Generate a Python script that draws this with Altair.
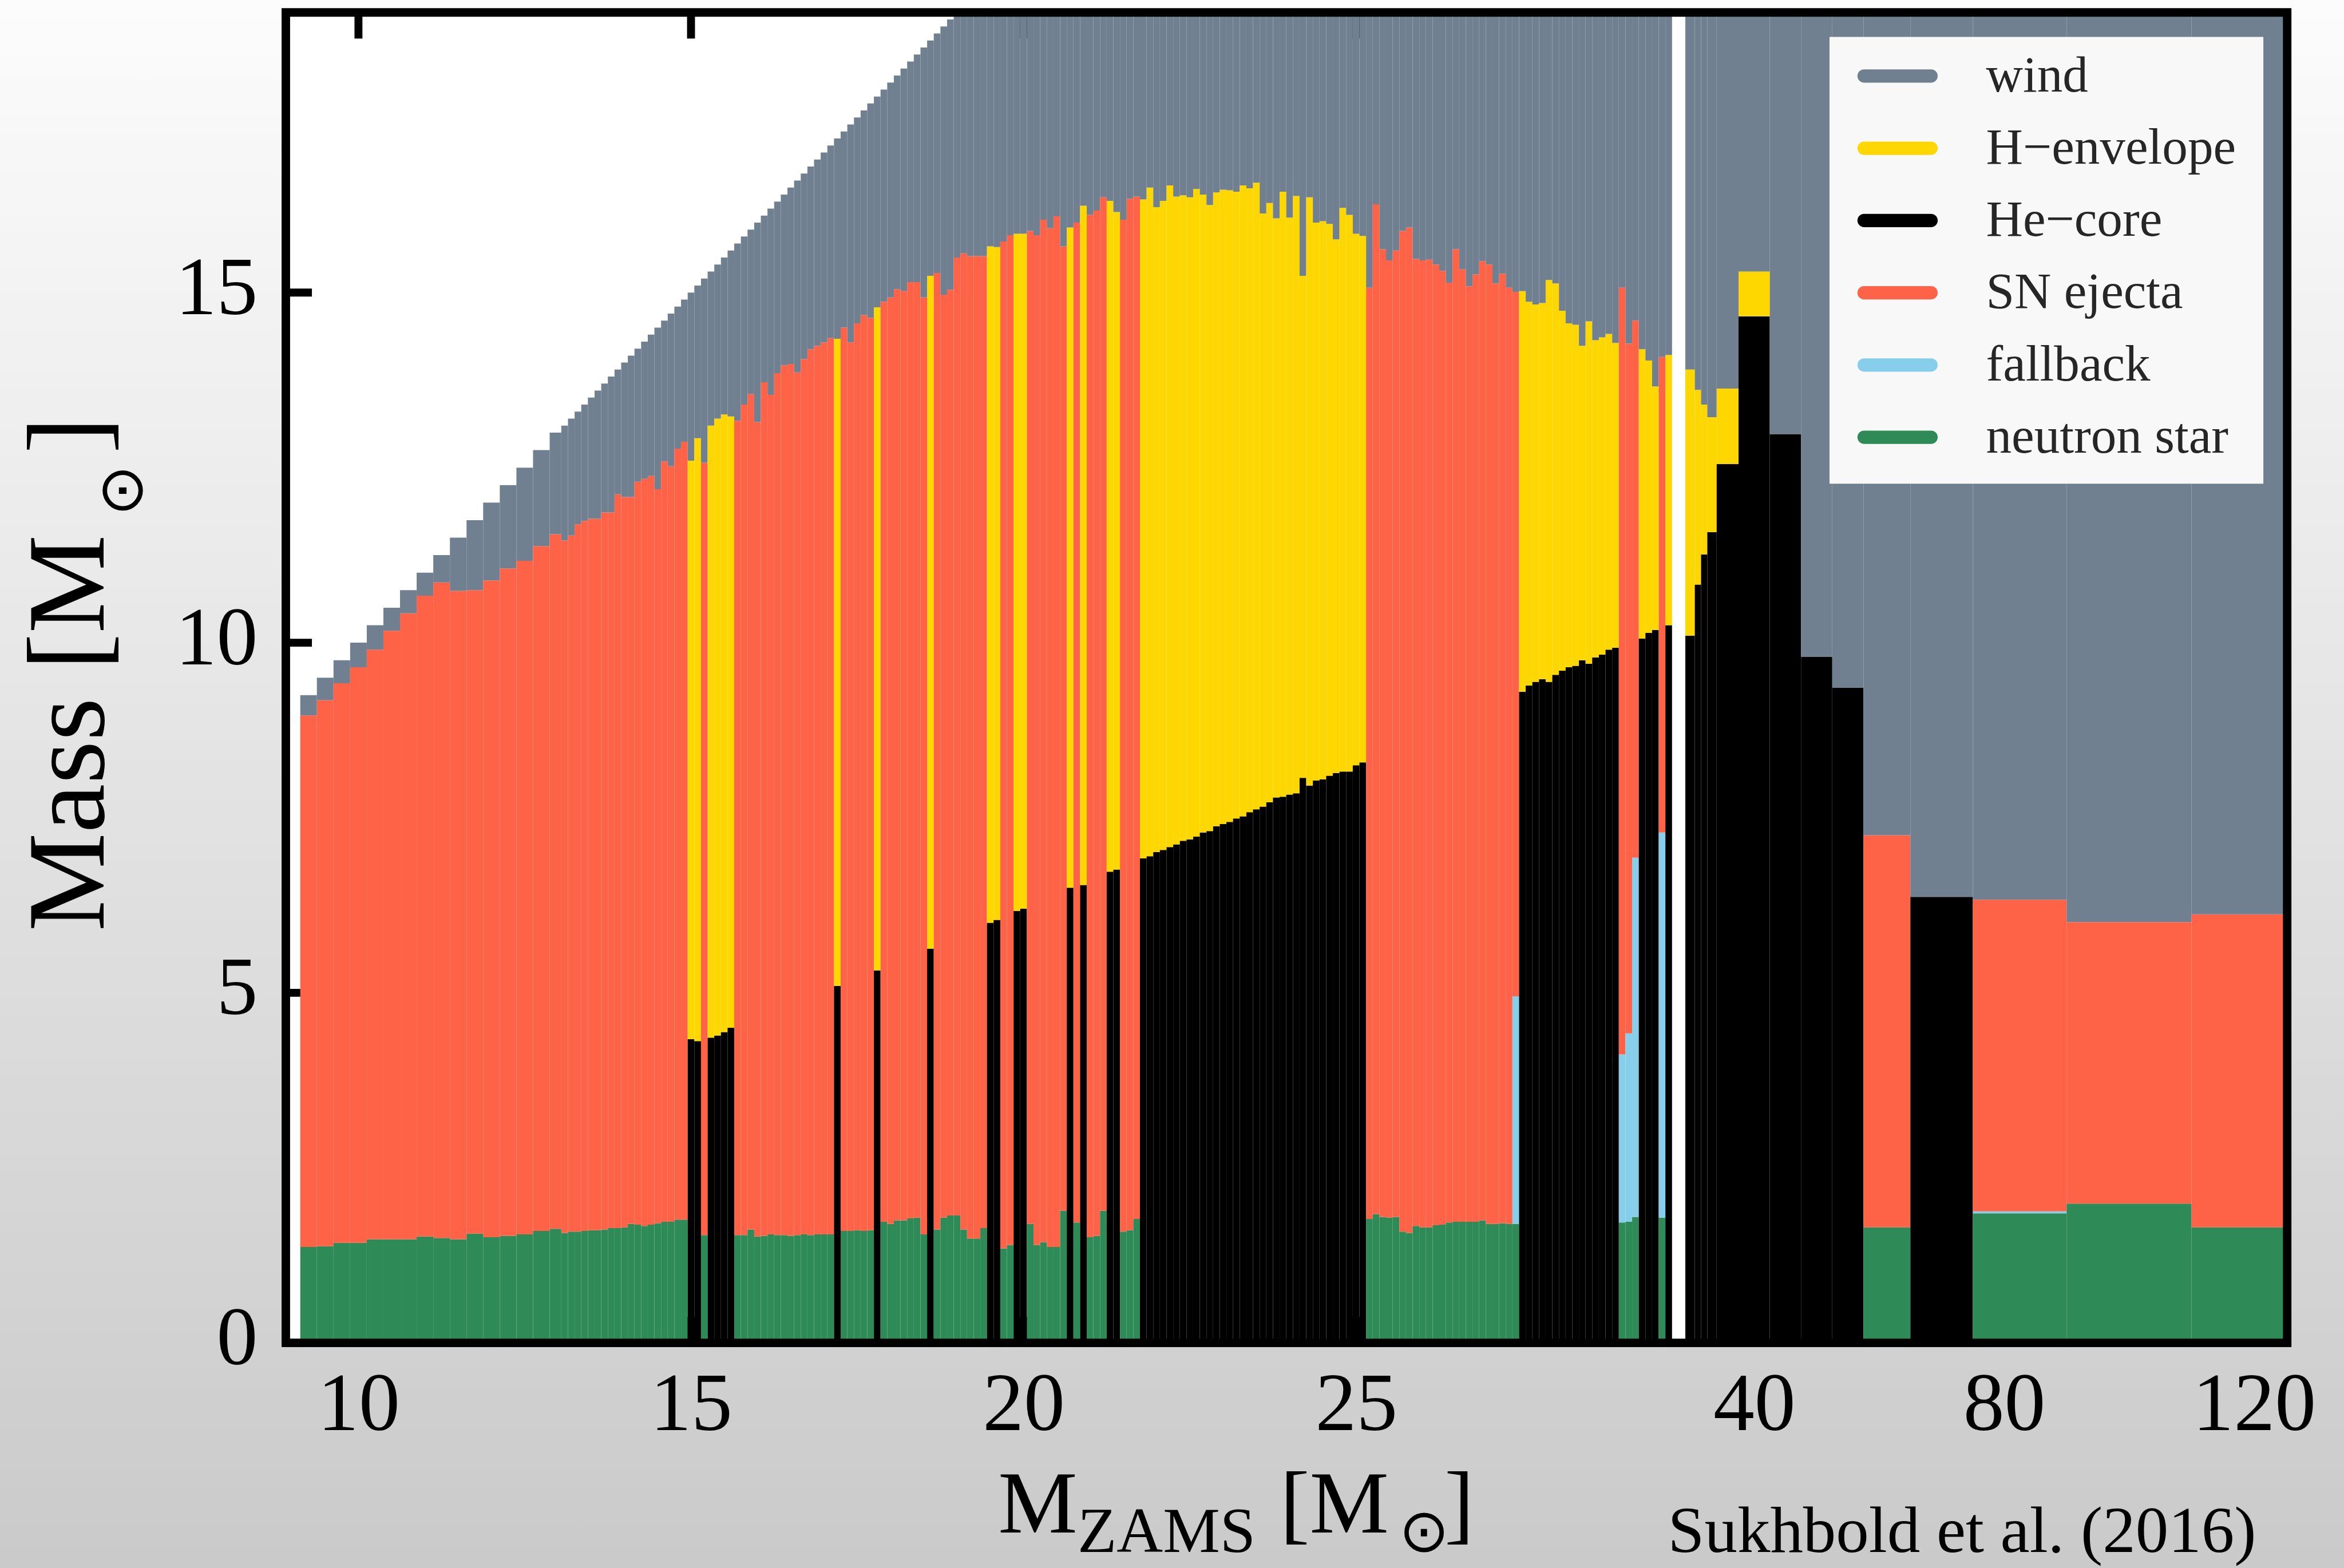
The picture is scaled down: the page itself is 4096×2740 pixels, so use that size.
import altair as alt
import pandas as pd

S = 0.991                      # global drawing scale
FONT = "Liberation Serif"
SYM_FONT = "DejaVu Sans"

# ---------------------------------------------------------------- data
# zero-age main-sequence masses of the models [Msun]
m_zams = [
    9.25, 9.5, 9.75, 10.0, 10.25, 10.5, 10.75, 11.0, 11.25, 11.5, 11.75, 12.0, 12.25, 12.5, 12.75,
    13.0, 13.1, 13.2, 13.3, 13.4, 13.5, 13.6, 13.7, 13.8, 13.9,
    14.0, 14.1, 14.2, 14.3, 14.4, 14.5, 14.6, 14.7, 14.8, 14.9,
    15.0, 15.1, 15.2, 15.3, 15.4, 15.5, 15.6, 15.7, 15.8, 15.9,
    16.0, 16.1, 16.2, 16.3, 16.4, 16.5, 16.6, 16.7, 16.8, 16.9,
    17.0, 17.1, 17.2, 17.3, 17.4, 17.5, 17.6, 17.7, 17.8, 17.9,
    18.0, 18.1, 18.2, 18.3, 18.4, 18.5, 18.6, 18.7, 18.8, 18.9,
    19.0, 19.1, 19.2, 19.3, 19.4, 19.5, 19.6, 19.7, 19.8, 19.9,
    20.0, 20.1, 20.2, 20.3, 20.4, 20.5, 20.6, 20.7, 20.8, 20.9,
    21.0, 21.1, 21.2, 21.3, 21.4, 21.5, 21.6, 21.7, 21.8, 21.9,
    22.0, 22.1, 22.2, 22.3, 22.4, 22.5, 22.6, 22.7, 22.8, 22.9,
    23.0, 23.1, 23.2, 23.3, 23.4, 23.5, 23.6, 23.7, 23.8, 23.9,
    24.0, 24.1, 24.2, 24.3, 24.4, 24.5, 24.6, 24.7, 24.8, 24.9,
    25.0, 25.1, 25.2, 25.3, 25.4, 25.5, 25.6, 25.7, 25.8, 25.9,
    26.0, 26.1, 26.2, 26.3, 26.4, 26.5, 26.6, 26.7, 26.8, 26.9,
    27.0, 27.1, 27.2, 27.3, 27.4, 27.5, 27.6, 27.7, 27.8, 27.9,
    28.0, 28.1, 28.2, 28.3, 28.4, 28.5, 28.6, 28.7, 28.8, 28.9,
    29.0, 29.1, 29.2, 29.3, 29.4, 29.5, 29.6, 29.7, 29.8, 29.9,
    30.0,
    31.0, 32.0, 33.0, 35.0, 40.0, 45.0, 50.0, 55.0, 60.0, 70.0, 80.0, 100.0, 120.0,
]

# E = explosion (neutron star), B = black hole, - = no model
fate = (
    "EEEEEEEEEEEEEEE"   # 9.25 - 12.75
    "EEEEEEEEEE"        # 13.x
    "EEEEEEEEEE"        # 14.x
    "BBEBBBBEEE"        # 15.x
    "EEEEEEEEEE"        # 16.x
    "EEBEEEEEBE"        # 17.x
    "EEEEEEBEEE"        # 18.x
    "EEEEEBBEEB"        # 19.x
    "BEEEEEEBEB"        # 20.x
    "EEEBBEEEBB"        # 21.x
    "BBBBBBBBBB"        # 22.x
    "BBBBBBBBBB"        # 23.x
    "BBBBBBBBBB"        # 24.x
    "BBEEEEEEEE"        # 25.x
    "EEEEEEEEEE"        # 26.x
    "EEEEEBBBBB"        # 27.x
    "BBBBBBBBBB"        # 28.x
    "EEEBBBEB--"        # 29.x
    "B"                 # 30
    "BBBBBBBBEBEEE"     # 31 ... 120
)

# pre-supernova mass (top of ejecta / envelope) [Msun]
final_mass = [
    8.96, 9.18, 9.42, 9.65, 9.90, 10.17, 10.42, 10.67, 10.86, 10.74, 10.75, 10.89, 11.06, 11.17, 11.38,
    11.55, 11.46, 11.53, 11.69, 11.74, 11.77, 11.77, 11.86, 11.86, 12.12,
    12.08, 12.08, 12.30, 12.34, 12.38, 12.19, 12.59, 12.52, 12.77, 12.87,
    12.60, 12.92, 12.57, 13.10, 13.20, 13.26, 13.23, 13.17, 13.40, 13.55,
    13.15, 13.72, 13.54, 13.85, 13.96, 13.98, 13.86, 14.05, 14.19, 14.24,
    14.29, 14.35, 14.34, 14.50, 14.29, 14.56, 14.68, 14.64, 14.79, 14.87,
    14.93, 15.05, 15.02, 15.15, 15.15, 14.93, 15.24, 15.28, 14.97, 15.04,
    15.50, 15.56, 15.52, 15.52, 15.52, 15.66, 15.65, 15.73, 15.82, 15.84,
    15.84, 15.88, 15.82, 16.04, 15.92, 16.09, 15.66, 15.93, 16.00, 16.24,
    16.11, 16.17, 16.36, 16.31, 16.15, 16.04, 16.34, 16.37, 16.33, 16.50,
    16.22, 16.31, 16.53, 16.37, 16.39, 16.36, 16.48, 16.40, 16.25, 16.43,
    16.47, 16.46, 16.44, 16.53, 16.49, 16.57, 16.13, 16.28, 16.06, 16.44,
    16.07, 16.38, 15.24, 16.36, 16.00, 16.02, 15.98, 15.76, 16.21, 16.11,
    15.84, 15.81, 15.07, 16.26, 15.62, 15.46, 15.60, 15.88, 15.93, 15.48,
    15.46, 15.47, 15.40, 15.31, 15.14, 15.62, 15.33, 15.09, 15.26, 15.45,
    15.40, 15.13, 15.27, 15.07, 15.01, 15.02, 14.87, 14.83, 14.85, 15.18,
    15.13, 14.74, 14.56, 14.54, 14.24, 14.59, 14.32, 14.36, 14.41, 14.28,
    15.07, 14.27, 14.60, 14.19, 14.03, 13.66, 14.08, 14.11, None, None,
    13.90,
    13.61, 13.40, 13.22, 13.63, 15.30, 12.98, 9.80, 9.36, 7.25, 6.37, 6.33, 6.01, 6.12,
]

# neutron-star mass (exploding models) or He-core mass (black holes) [Msun]
core_mass = [
    1.37, 1.38, 1.43, 1.43, 1.48, 1.48, 1.48, 1.52, 1.50, 1.48, 1.56, 1.51, 1.53, 1.55, 1.60,
    1.63, 1.57, 1.59, 1.59, 1.60, 1.61, 1.61, 1.62, 1.64, 1.64,
    1.65, 1.70, 1.69, 1.67, 1.69, 1.71, 1.73, 1.73, 1.76, 1.76,
    4.34, 4.31, 1.54, 4.36, 4.39, 4.44, 4.50, 1.54, 1.54, 1.62,
    1.52, 1.53, 1.55, 1.54, 1.54, 1.53, 1.54, 1.55, 1.54, 1.55,
    1.55, 1.55, 5.10, 1.60, 1.60, 1.61, 1.60, 1.61, 5.32, 1.73,
    1.70, 1.75, 1.75, 1.78, 1.79, 1.55, 5.63, 1.62, 1.79, 1.82,
    1.82, 1.62, 1.49, 1.49, 1.64, 6.00, 6.04, 1.35, 1.40, 6.17,
    6.20, 1.70, 1.40, 1.44, 1.37, 1.37, 1.89, 6.50, 1.72, 6.54,
    1.51, 1.53, 1.89, 6.73, 6.76, 1.59, 1.61, 1.77, 6.92, 6.95,
    7.01, 7.04, 7.08, 7.12, 7.17, 7.19, 7.23, 7.29, 7.31, 7.38,
    7.41, 7.44, 7.49, 7.52, 7.58, 7.62, 7.66, 7.72, 7.79, 7.80,
    7.83, 7.85, 8.07, 7.96, 8.03, 8.05, 8.10, 8.14, 8.16, 8.16,
    8.25, 8.29, 1.77, 1.84, 1.80, 1.79, 1.80, 1.59, 1.57, 1.67,
    1.65, 1.65, 1.68, 1.69, 1.72, 1.73, 1.73, 1.73, 1.73, 1.75,
    1.70, 1.70, 1.71, 1.70, 1.70, 9.30, 9.39, 9.44, 9.48, 9.44,
    9.54, 9.60, 9.65, 9.67, 9.75, 9.70, 9.79, 9.83, 9.90, 9.93,
    1.72, 1.73, 1.80, 10.06, 10.14, 10.18, 1.79, 10.25, None, None,
    10.10,
    10.83, 11.26, 11.58, 12.55, 14.66, 12.98, 9.80, 9.36, 1.65, 6.37, 1.85, 1.99, 1.65,
]

# models with fallback onto the neutron star: top of the fallback layer [Msun]
fallback_models = [27.4, 29.0, 29.1, 29.2, 29.6, 80.0]
fallback_top = [4.95, 4.12, 4.42, 6.93, 7.29, 1.88]

parts = ["wind", "H\u2212envelope", "He\u2212core", "SN ejecta", "fallback", "neutron star"]
part_colors = ["#708090", "#FFD700", "#000000", "#FF6347", "#87CEEB", "#2E8B57"]

x_ticks = [10, 15, 20, 25, 40, 80, 120]
y_ticks = [0, 5, 10, 15]

# ---------------------------------------------------------------- segments
fb = {round(m, 2): t for m, t in zip(fallback_models, fallback_top)}
rows = []
n = len(m_zams)
for i, m in enumerate(m_zams):
    f = fate[i]
    if f == "-":
        continue
    lo = m - (m - m_zams[i - 1]) / 2 if i > 0 else m - (m_zams[1] - m) / 2
    hi = m + (m_zams[i + 1] - m) / 2 if i < n - 1 else m + (m - m_zams[i - 1]) / 2
    top, inner = final_mass[i], core_mass[i]
    segs = []
    if f == "E":
        segs.append(("neutron star", 0.0, inner))
        base = inner
        t = fb.get(round(m, 2))
        if t is not None:
            segs.append(("fallback", inner, t))
            base = t
        segs.append(("SN ejecta", base, top))
    else:
        segs.append(("He\u2212core", 0.0, inner))
        if top > inner:
            segs.append(("H\u2212envelope", inner, top))
    segs.append(("wind", top, m))
    for p, a, b in segs:
        rows.append({"m": m, "lo": lo, "hi": hi, "y0": a, "y1": b, "part": p})
bars_df = pd.DataFrame(rows)

# ---------------------------------------------------------------- layout
W = 3529 * S
H = 2346 * S
PL = 504 * S
PT = 22 * S
PR = 4096 - PL - W
PB = 2740 - PT - H

one = pd.DataFrame({"k": [0]})

x_scale = alt.Scale(domain=[8.908, 30.05, 125.3], range=[0, 2479.5 * S, W], nice=False, zero=False)
y_scale = alt.Scale(domain=[0, 19], nice=False, zero=False)

x_axis = alt.Axis(values=x_ticks, format="d", title=None, ticks=False, tickSize=0, domain=False,
                  grid=False, labelFont=FONT, labelFontSize=145 * S, labelColor="black",
                  labelPadding=38 * S, labelFlush=False, labelOverlap=False, labelLimit=2000,
                  zindex=1)
y_axis = alt.Axis(values=y_ticks, format="d", title=None, ticks=False, tickSize=0, domain=False,
                  grid=False, labelFont=FONT, labelFontSize=145 * S, labelColor="black",
                  labelPadding=50 * S, labelOffset=-6 * S, labelOverlap=False, labelLimit=2000,
                  zindex=1)

layers = []

# figure background with a soft vertical gradient
grad = alt.LinearGradient(gradient="linear",
                          stops=[alt.GradientStop(color="#fcfcfc", offset=0),
                                 alt.GradientStop(color="#cacaca", offset=1)],
                          x1=0, x2=0, y1=0, y2=1)
layers.append(alt.Chart(one).mark_rect(color=grad).encode(
    x=alt.value(-PL), x2=alt.value(W + PR), y=alt.value(-PT), y2=alt.value(H + PB)))

# plot area
layers.append(alt.Chart(one).mark_rect(color="white").encode(
    x=alt.value(0), x2=alt.value(W), y=alt.value(0), y2=alt.value(H)))

# inward tick marks on all four sides
TL, TW = 46 * S, 14 * S
xt = pd.DataFrame({"v": x_ticks})
yt = pd.DataFrame({"v": y_ticks})
for y_a, y_b in [(0, TL), (H, H - TL)]:
    layers.append(alt.Chart(xt).mark_rule(color="black", strokeWidth=TW).encode(
        x=alt.X("v:Q", scale=x_scale, axis=x_axis), y=alt.value(y_a), y2=alt.value(y_b)))
for x_a, x_b in [(0, TL), (W, W - TL)]:
    layers.append(alt.Chart(yt).mark_rule(color="black", strokeWidth=TW).encode(
        y=alt.Y("v:Q", scale=y_scale, axis=y_axis), x=alt.value(x_a), x2=alt.value(x_b)))

# stacked mass budget of every model
layers.append(alt.Chart(bars_df).mark_rect(clip=True).encode(
    x=alt.X("lo:Q", scale=x_scale, axis=x_axis),
    x2="hi:Q",
    y=alt.Y("y0:Q", scale=y_scale, axis=y_axis),
    y2="y1:Q",
    color=alt.Color("part:N", scale=alt.Scale(domain=parts, range=part_colors), legend=None),
))

# frame
layers.append(alt.Chart(one).mark_rect(filled=False, color="black", strokeWidth=15 * S).encode(
    x=alt.value(0), x2=alt.value(W), y=alt.value(0), y2=alt.value(H)))

# legend
layers.append(alt.Chart(one).mark_rect(color="#f8f8f8").encode(
    x=alt.value(2722 * S), x2=alt.value(3487 * S), y=alt.value(43 * S), y2=alt.value(831 * S)))
for i, (p, c) in enumerate(zip(parts, part_colors)):
    yc = (112 + 127.4 * i) * S
    layers.append(alt.Chart(one).mark_rule(color=c, strokeWidth=23.5 * S, strokeCap="round").encode(
        x=alt.value(2783 * S), x2=alt.value(2901 * S), y=alt.value(yc)))
    layers.append(alt.Chart(one).mark_text(text=p, font=FONT, fontSize=90 * S, color="#262626",
                                           align="left", baseline="alphabetic").encode(
        x=alt.value(2998 * S), y=alt.value(yc + 27 * S)))


def label(txt, x, y, size, font=FONT, angle=0, align="left", baseline="alphabetic"):
    return alt.Chart(one).mark_text(text=txt, font=font, fontSize=size * S, color="black",
                                    angle=angle, align=align, baseline=baseline).encode(
        x=alt.value(x * S), y=alt.value(y * S))


# x-axis title: M_ZAMS [M_sun]
layers.append(label("M", 1256, 2680, 157))
layers.append(label("ZAMS", 1396, 2715, 113))
layers.append(label("[M", 1753, 2680, 157))
layers.append(label("\u2299", 2007, 2714, 106, font=SYM_FONT, align="center"))
layers.append(label("]", 2043, 2680, 157))

# y-axis title: Mass [M_sun]
layers.append(label("Mass [M", -321, 1620, 195, angle=270))
layers.append(label("\u2299", -286, 843, 108, font=SYM_FONT, angle=270, align="center", baseline="middle"))
layers.append(label("]", -321, 778, 195, angle=270))

# source
layers.append(label("Sukhbold et al. (2016)", 2437, 2715, 116))

chart = alt.layer(*layers).properties(
    width=W, height=H,
    padding={"left": PL, "top": PT, "right": PR, "bottom": PB},
    autosize=alt.AutoSizeParams(type="none"),
    background="white",
).configure_view(strokeOpacity=0)

chart.save("out.html", embed_options={"renderer": "svg", "actions": False})
